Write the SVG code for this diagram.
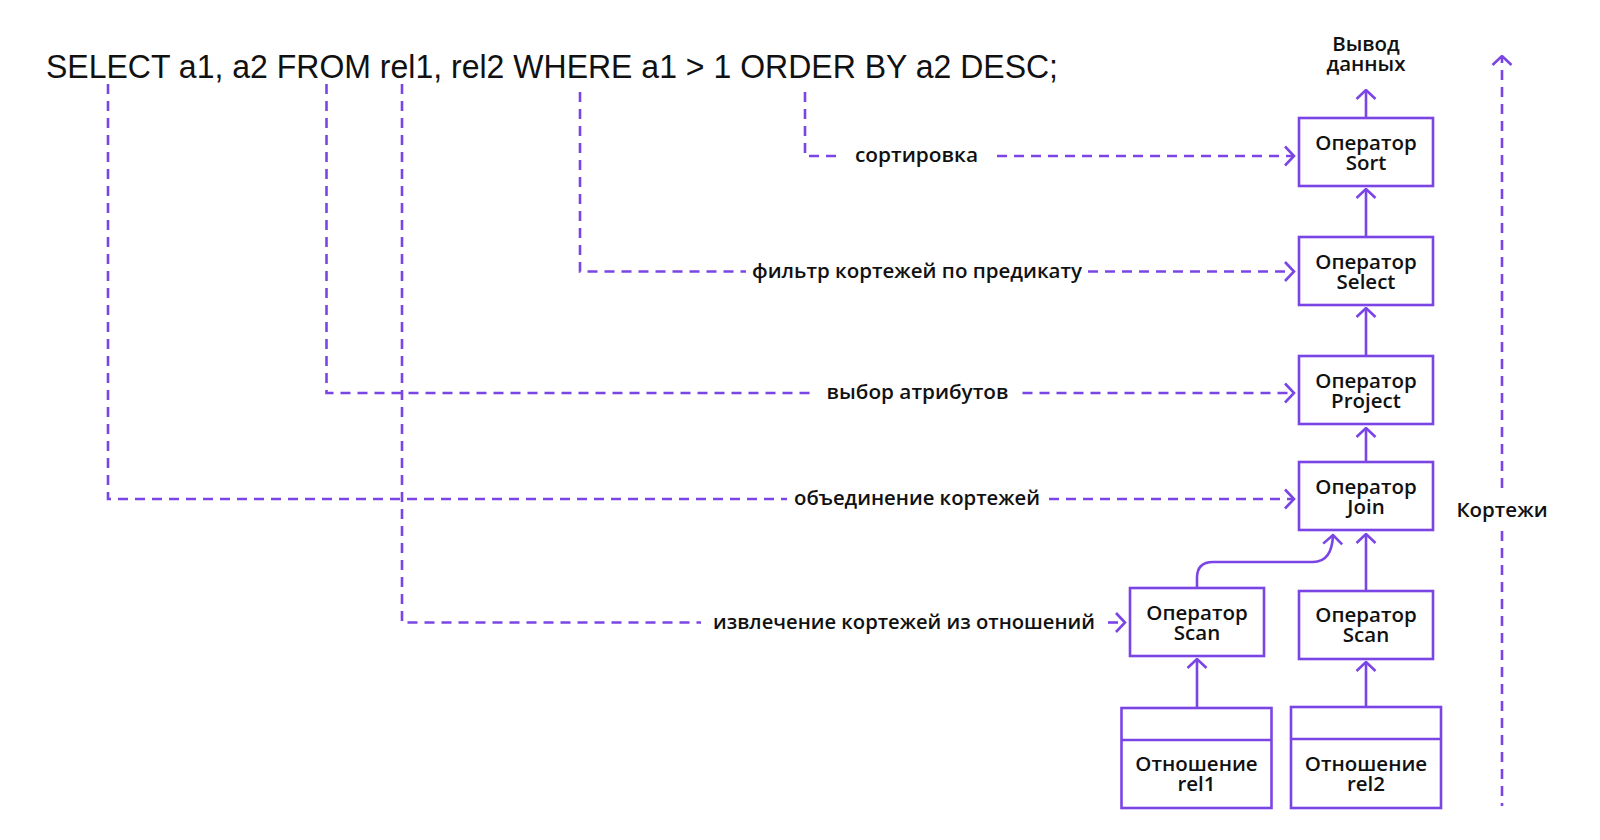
<svg xmlns="http://www.w3.org/2000/svg" width="1600" height="840" viewBox="0 0 1600 840">
<style>
.ln{fill:none;stroke:#7b45e6;stroke-width:2.6}
.ds{fill:none;stroke:#7b45e6;stroke-width:2.6;stroke-dasharray:10 7}
.bx{fill:#fff;stroke:#7b45e6;stroke-width:2.6}
.t{font-family:"Open Sans","Noto Sans",sans-serif;font-size:20.5px;font-weight:600;fill:#111;text-anchor:middle}
.lb{font-family:"Open Sans","Noto Sans",sans-serif;font-size:20px;font-weight:600;fill:#111}
.sql{font-family:"Liberation Sans",Arial,sans-serif;font-size:33px;fill:#111}
</style>
<defs>
<marker id="ah" viewBox="0 0 12 22" refX="10.5" refY="11" markerWidth="12" markerHeight="22" markerUnits="userSpaceOnUse" orient="auto">
<path d="M1.5,1.5 L10.5,11 L1.5,20.5" fill="none" stroke="#7b45e6" stroke-width="2.6" stroke-dasharray="none"/>
</marker>
</defs>
<rect width="1600" height="840" fill="#fff"/>
<text class="sql" x="46" y="77.5" textLength="1012" lengthAdjust="spacingAndGlyphs">SELECT a1, a2 FROM rel1, rel2 WHERE a1 &gt; 1 ORDER BY a2 DESC;</text>

<g id="connectors">
<path class="ds" d="M805,92 V156 H843"/>
<path class="ds" d="M997,156 H1294" marker-end="url(#ah)"/>
<path class="ds" d="M580,92 V271.5 H746"/>
<path class="ds" d="M1088,271.5 H1294" marker-end="url(#ah)"/>
<path class="ds" d="M326.5,84 V393 H812"/>
<path class="ds" d="M1022.5,393 H1294" marker-end="url(#ah)"/>
<path class="ds" d="M108,84 V499 H787"/>
<path class="ds" d="M1049,499 H1294" marker-end="url(#ah)"/>
<path class="ds" d="M402,84 V622.5 H701"/>
<path class="ds" d="M1108,622.5 H1125" marker-end="url(#ah)"/>
<path class="ds" d="M1502,488 V56" marker-end="url(#ah)"/>
<path class="ds" d="M1502,531 V806"/>
<path class="ln" d="M1366,118 V90" marker-end="url(#ah)"/>
<path class="ln" d="M1366,237 V189" marker-end="url(#ah)"/>
<path class="ln" d="M1366,356 V308" marker-end="url(#ah)"/>
<path class="ln" d="M1366,462 V428" marker-end="url(#ah)"/>
<path class="ln" d="M1366,591 V534" marker-end="url(#ah)"/>
<path class="ln" d="M1197,588 V578 Q1197,562 1213,562 H1313 Q1332,562 1333,535" marker-end="url(#ah)"/>
<path class="ln" d="M1197,708 V659" marker-end="url(#ah)"/>
<path class="ln" d="M1366,707 V662" marker-end="url(#ah)"/>
</g>

<g id="labels">
<text class="lb" x="855" y="162" textLength="123" lengthAdjust="spacingAndGlyphs">сортировка</text>
<text class="lb" x="752" y="277.5" textLength="330" lengthAdjust="spacingAndGlyphs">фильтр кортежей по предикату</text>
<text class="lb" x="826.5" y="399" textLength="182" lengthAdjust="spacingAndGlyphs">выбор атрибутов</text>
<text class="lb" x="794" y="505" textLength="246" lengthAdjust="spacingAndGlyphs">объединение кортежей</text>
<text class="lb" x="713" y="628.5" textLength="382" lengthAdjust="spacingAndGlyphs">извлечение кортежей из отношений</text>
</g>

<g id="output">
<text class="t" x="1366" y="51">Вывод</text>
<text class="t" x="1366" y="71">данных</text>
</g>
<g id="tuples">
<text class="t" x="1502" y="517">Кортежи</text>
</g>

<g id="sort">
<rect class="bx" x="1299" y="118" width="134" height="68"/>
<text class="t" x="1366" y="150">Оператор</text>
<text class="t" x="1366" y="170">Sort</text>
</g>
<g id="select">
<rect class="bx" x="1299" y="237" width="134" height="68"/>
<text class="t" x="1366" y="269">Оператор</text>
<text class="t" x="1366" y="289">Select</text>
</g>
<g id="project">
<rect class="bx" x="1299" y="356" width="134" height="68"/>
<text class="t" x="1366" y="388">Оператор</text>
<text class="t" x="1366" y="408">Project</text>
</g>
<g id="join">
<rect class="bx" x="1299" y="462" width="134" height="68"/>
<text class="t" x="1366" y="494">Оператор</text>
<text class="t" x="1366" y="514">Join</text>
</g>
<g id="scan1">
<rect class="bx" x="1130" y="588" width="134" height="68"/>
<text class="t" x="1197" y="620">Оператор</text>
<text class="t" x="1197" y="640">Scan</text>
</g>
<g id="scan2">
<rect class="bx" x="1299" y="591" width="134" height="68"/>
<text class="t" x="1366" y="622">Оператор</text>
<text class="t" x="1366" y="642">Scan</text>
</g>
<g id="rel1">
<rect class="bx" x="1121.5" y="708" width="150" height="100"/>
<line class="ln" x1="1121.5" y1="740" x2="1271.5" y2="740"/>
<text class="t" x="1196.5" y="771">Отношение</text>
<text class="t" x="1196.5" y="791">rel1</text>
</g>
<g id="rel2">
<rect class="bx" x="1291" y="707" width="150" height="101"/>
<line class="ln" x1="1291" y1="739" x2="1441" y2="739"/>
<text class="t" x="1366" y="771">Отношение</text>
<text class="t" x="1366" y="791">rel2</text>
</g>
</svg>
